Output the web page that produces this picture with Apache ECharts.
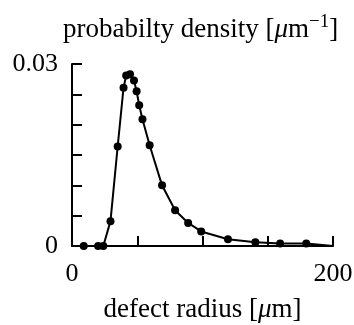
<!DOCTYPE html>
<html>
<head>
<meta charset="utf-8">
<script src="https://cdn.jsdelivr.net/npm/echarts@6/dist/echarts.min.js"></script>
<style>
  html, body { margin: 0; padding: 0; background: #fff; }
  #chart { width: 354px; height: 325px; }
</style>
</head>
<body>
<div id="chart"></div>
<script>
var radius = [9, 20, 24, 29.5, 35, 39.5, 41.5, 44.5, 47.5, 49.5, 51.5, 54, 59.5, 69, 79, 89, 99, 119.5, 140.5, 159.5, 179.5, 200];
var density = [0, 0, 0, 0.0041, 0.0164, 0.0261, 0.0281, 0.0283, 0.0273, 0.0255, 0.0232, 0.0209, 0.0166, 0.0100, 0.0059, 0.0038, 0.0024, 0.0011, 0.0006, 0.0004, 0.0004, 0];
var xLabels = { 0: '0', 200: '200' };
var yLabels = { 0: '0', 0.03: '0.03' };

var serif = 'Liberation Serif';
var chart = echarts.init(document.getElementById('chart'));

var points = radius.map(function (r, i) {
  var p = { value: [r, density[i]] };
  if (i === radius.length - 1) p.symbol = 'none';
  return p;
});

var option = {
  animation: false,
  backgroundColor: '#fff',
  title: {
    text: 'probabilty density [{i|μ}m{sup|−1}]',
    left: 58,
    top: 8,
    textStyle: {
      fontFamily: serif,
      fontSize: 27,
      fontWeight: 'normal',
      color: '#000',
      rich: {
        i: { fontFamily: serif, fontSize: 27, fontStyle: 'italic', color: '#000' },
        sup: { fontFamily: serif, fontSize: 19, color: '#000', verticalAlign: 'top', padding: [0, 0, 14, 0] }
      }
    }
  },
  grid: {
    left: 72,
    right: 21,
    top: 64,
    bottom: 79,
    outerBoundsMode: 'none'
  },
  xAxis: {
    type: 'value',
    min: 0,
    max: 200,
    interval: 50,
    name: 'defect radius [{i|μ}m]',
    nameLocation: 'middle',
    nameGap: 50,
    nameTextStyle: {
      fontFamily: serif,
      fontSize: 27,
      color: '#000',
      rich: {
        i: { fontFamily: serif, fontSize: 27, fontStyle: 'italic', color: '#000' }
      }
    },
    axisLine: { lineStyle: { color: '#000', width: 2 } },
    axisTick: { inside: true, length: 10, lineStyle: { color: '#000', width: 2 } },
    splitLine: { show: false },
    axisLabel: {
      margin: 15,
      fontFamily: serif,
      fontSize: 26,
      color: '#000',
      formatter: function (v) { return xLabels[v] || ''; }
    }
  },
  yAxis: {
    type: 'value',
    min: 0,
    max: 0.03,
    interval: 0.005,
    axisLine: { show: true, lineStyle: { color: '#000', width: 2 } },
    axisTick: { show: true, inside: true, length: 10, lineStyle: { color: '#000', width: 2 } },
    splitLine: { show: false },
    axisLabel: {
      margin: 14,
      padding: [8, 0, 0, 0],
      fontFamily: serif,
      fontSize: 26,
      color: '#000',
      formatter: function (v) {
        return yLabels[Math.round(v * 1000) / 1000] || '';
      }
    }
  },
  series: [{
    type: 'line',
    data: points,
    symbol: 'circle',
    symbolSize: 8,
    showSymbol: true,
    clip: false,
    itemStyle: { color: '#000' },
    lineStyle: { color: '#000', width: 2 }
  }]
};

chart.setOption(option);
</script>
</body>
</html>
